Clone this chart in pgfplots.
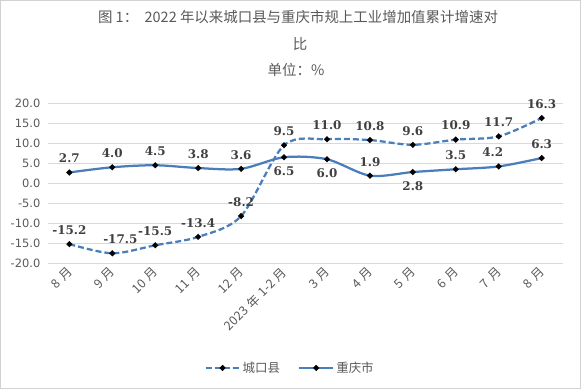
\documentclass[border=0pt]{standalone}
\usepackage{fontspec}
\usepackage{pgfplots}
\usepackage{pgfplotstable}
\pgfplotsset{compat=1.18}
\setmainfont{DejaVu Sans}
\newfontfamily\cjk{Noto Sans CJK SC}
\newfontfamily\lblfont{DejaVu Serif}
\definecolor{lineblue}{HTML}{4A7EBB}
\definecolor{txtgray}{HTML}{595959}
\definecolor{lblgray}{HTML}{404040}

\pgfplotstableread{
x y pos dx
0 -15.2 1 0
1 -17.5 1 8
2 -15.5 1 0
3 -13.4 1 0
4 -8.2 1 0
5 9.5 1 0
6 11.0 1 0
7 10.8 1 0
8 9.6 1 0
9 10.9 1 0
10 11.7 1 0
11 16.3 1 0
}\chengkou

\pgfplotstableread{
x y pos dx
0 2.7 1 0
1 4.0 1 0
2 4.5 1 0
3 3.8 1 0
4 3.6 1 0
5 6.5 -1 0
6 6.0 -1 0
7 1.9 1 0
8 2.8 -1 0
9 3.5 1 0
10 4.2 1 -6
11 6.3 1 0
}\chongqing

\begin{document}
\begin{tikzpicture}[x=1bp,y=1bp]
\draw[gray!35, line width=0.75bp] (0.5,0.5) rectangle (580.5,388.5);
\node[font=\cjk\fontsize{14.5}{16}\selectfont, text=txtgray] at (298,372) {图 1：\ \ 2022 年以来城口县与重庆市规上工业增加值累计增速对};
\node[font=\cjk\fontsize{14.5}{16}\selectfont, text=txtgray] at (300,345) {比};
\node[font=\cjk\fontsize{14.5}{16}\selectfont, text=txtgray] at (296,319) {单位：\%};

\begin{axis}[
  at={(48bp,125.7bp)}, anchor=south west,
  scale only axis, width=515bp, height=160bp,
  xmin=-0.5, xmax=11.5, ymin=-20, ymax=20,
  ytick={-20,-15,...,20},
  xtick={0,...,11},
  xticklabels={{8\hspace{0.3em}月},{9\hspace{0.3em}月},{10\hspace{0.3em}月},{11\hspace{0.3em}月},{12\hspace{0.3em}月},{2023\hspace{0.3em}年\hspace{0.3em}1-2\hspace{0.3em}月},{3\hspace{0.3em}月},{4\hspace{0.3em}月},{5\hspace{0.3em}月},{6\hspace{0.3em}月},{7\hspace{0.3em}月},{8\hspace{0.3em}月}},
  ymajorgrids, grid style={gray!30, line width=0.75bp},
  axis line style={draw=none},
  major tick length=0pt,
  clip=false,
  yticklabel style={font=\fontsize{11.5}{13}\selectfont, text=txtgray, xshift=-4bp,
     /pgf/number format/.cd, fixed, fixed zerofill, precision=1, assume math mode=true},
  xticklabel style={rotate=45, anchor=east, font=\cjk\fontsize{12.5}{14}\selectfont, text=txtgray, yshift=-5bp, xshift=-1bp},
  legend style={at={(0.47,-0.654)}, anchor=center, draw=none, fill=none,
     font=\cjk\fontsize{12.5}{14}\selectfont, text=txtgray,
     /tikz/every even column/.append style={column sep=16bp}},
  legend columns=2,
  legend image code/.code={\draw[mark repeat=2,mark phase=2] plot coordinates {(0bp,0bp)(17bp,0bp)(34bp,0bp)};},
  nodes near coords={\pgfmathprintnumber[fixed,fixed zerofill,precision=1,assume math mode=true]{\pgfplotspointmeta}},
  visualization depends on={\thisrow{pos} \as \lp},
  visualization depends on={\thisrow{dx} \as \ldx},
  every node near coord/.append style={anchor=center, yshift=\lp*14bp, xshift=\ldx*1bp,
     font=\lblfont\bfseries\fontsize{12}{14}\selectfont, text=lblgray},
]
\addplot[lineblue, line width=2.25bp, dash pattern=on 6bp off 3bp, smooth, tension=0.5,
  mark=*, mark size=1.6bp, mark options={solid, fill=black, draw=black}]
  table[x=x,y=y]{\chengkou};
\addlegendentry{城口县}
\addplot[lineblue, line width=2.25bp, smooth, tension=0.5,
  mark=*, mark size=1.6bp, mark options={solid, fill=black, draw=black}]
  table[x=x,y=y]{\chongqing};
\addlegendentry{重庆市}
\end{axis}
\end{tikzpicture}
\end{document}
